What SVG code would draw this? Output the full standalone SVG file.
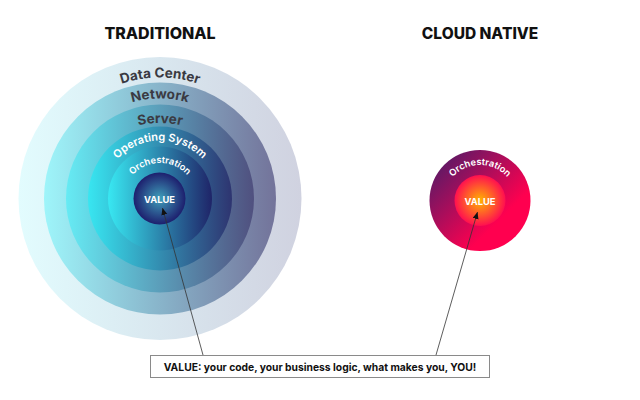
<svg xmlns="http://www.w3.org/2000/svg" width="640" height="400" viewBox="0 0 640 400">
<style>
text{font-family:"Inter","Liberation Sans",sans-serif}
.title{font-size:16px;font-weight:800;fill:#111;text-anchor:middle}
.dark{font-size:13.500px;font-weight:700;fill:#3a3a42;text-anchor:middle}
.light{font-weight:600;fill:#fff;text-anchor:middle}
.val{font-size:9.300px;font-weight:700;fill:#fff;text-anchor:middle}
.conn{stroke:#333;stroke-width:.8;fill:none;marker-end:url(#arr)}
</style>
<defs>
<marker id="arr" markerWidth="8" markerHeight="8" refX="7" refY="3" orient="auto" markerUnits="userSpaceOnUse"><path d="M0 0L7 3L0 6z" fill="#111"/></marker>
<linearGradient id="g1"><stop offset="0" stop-color="#e2fcfe"/><stop offset="1" stop-color="#d0d2e0"/></linearGradient>
<linearGradient id="g2"><stop offset="0" stop-color="#9ef5fa"/><stop offset="1" stop-color="#73739a"/></linearGradient>
<linearGradient id="g3"><stop offset="0" stop-color="#66ebf4"/><stop offset="1" stop-color="#50507f"/></linearGradient>
<linearGradient id="g4"><stop offset="0" stop-color="#38e6f1"/><stop offset="1" stop-color="#2e3470"/></linearGradient>
<linearGradient id="g5"><stop offset="0" stop-color="#38e8f2"/><stop offset="1" stop-color="#1f2468"/></linearGradient>
<radialGradient id="g6"><stop offset="0" stop-color="#3fa0bb"/><stop offset="1" stop-color="#1d1f6e"/></radialGradient>
<linearGradient id="r1" x1=".1" y1=".1" x2=".8" y2=".8"><stop offset="0" stop-color="#5a1a66"/><stop offset=".85" stop-color="#ff004f"/></linearGradient>
<radialGradient id="r2"><stop offset="0" stop-color="#ffb400"/><stop offset="1" stop-color="#ff0f50"/></radialGradient>
<path id="pDC" d="M39 198.500A121 121 0 0 1 281 198.500"/>
<path id="pNet" d="M60 198.500A100 100 0 0 1 260 198.500"/>
<path id="pSrv" d="M60 223A100 100 0 0 1 260 223"/>
<path id="pOS" d="M102 198.500A58 58 0 0 1 218 198.500"/>
<path id="pOr" d="M123 200A37 37 0 0 1 197 200"/>
<path id="pOr2" d="M443 202A37 37 0 0 1 517 202"/>
</defs>
<text class="title" x="160" y="39">TRADITIONAL</text>
<text class="title" x="480" y="39" style="font-size:15.500px">CLOUD NATIVE</text>
<g id="data-center"><circle cx="160" cy="198.500" r="141.500" fill="url(#g1)"/><text class="dark"><textPath href="#pDC" startOffset="50%">Data Center</textPath></text></g>
<g id="network"><circle cx="160" cy="198.500" r="116" fill="url(#g2)"/><text class="dark"><textPath href="#pNet" startOffset="50%">Network</textPath></text></g>
<g id="server"><circle cx="160" cy="198.500" r="94" fill="url(#g3)"/><text class="dark"><textPath href="#pSrv" startOffset="50%">Server</textPath></text></g>
<g id="operating-system"><circle cx="160" cy="198.500" r="72" fill="url(#g4)"/><text class="light" font-size="11"><textPath href="#pOS" startOffset="50%">Operating System</textPath></text></g>
<g id="orchestration"><circle cx="160" cy="198.500" r="52" fill="url(#g5)"/><text class="light" font-size="9.300"><textPath href="#pOr" startOffset="50%">Orchestration</textPath></text></g>
<g id="value"><circle cx="159.500" cy="198.500" r="26" fill="url(#g6)"/><text class="val" x="159.500" y="203">VALUE</text></g>
<g id="cn-orchestration"><circle cx="480" cy="200.500" r="50.500" fill="url(#r1)"/><text class="light" font-size="9.300"><textPath href="#pOr2" startOffset="50%">Orchestration</textPath></text></g>
<g id="cn-value"><circle cx="480" cy="200.500" r="25.500" fill="url(#r2)"/><text class="val" x="480" y="205">VALUE</text></g>
<g id="connectors">
<path class="conn" d="M203 355L162.500 208"/>
<path class="conn" d="M436 355L477.500 212"/>
</g>
<g id="callout"><rect x="150.500" y="355.500" width="339" height="22" fill="#fff" stroke="#8a8a8a"/><text x="320" y="371" font-size="10.300" font-weight="700" fill="#111" text-anchor="middle">VALUE: your code, your business logic, what makes you, YOU!</text></g>
</svg>
